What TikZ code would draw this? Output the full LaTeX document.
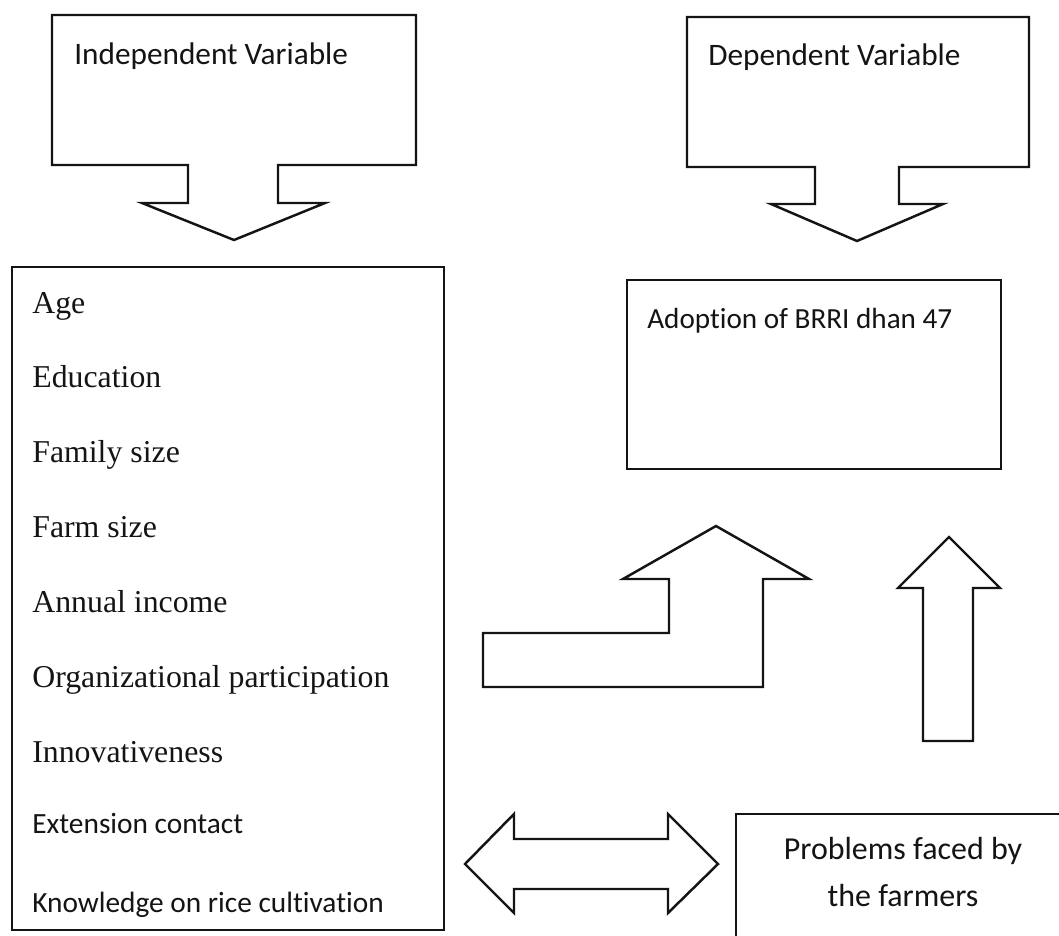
\documentclass[tikz,border=0pt]{standalone}
\usepackage{fontspec}
\setmainfont{Liberation Serif}
\newfontfamily\vfsans[Ligatures=NoCommon]{Carlito}
\definecolor{vfInk}{HTML}{141414}
\tikzset{
  vf outline/.style={draw=vfInk, fill=white, line width=1.4pt, line join=miter},
  vf title/.style={font=\vfsans\fontsize{17.8}{21}\selectfont, text=vfInk, anchor=base west, inner sep=0pt},
  vf item/.style={font=\fontsize{18.1}{22}\selectfont, text=vfInk, anchor=base west, inner sep=0pt},
  vf sans item/.style={vf item, font=\vfsans\fontsize{16.7}{20}\selectfont},
  vf problem/.style={font=\vfsans\fontsize{18.2}{22}\selectfont, text=vfInk, anchor=base, inner sep=0pt}
}

\begin{document}
\begin{tikzpicture}[x=0.02cm,y=-0.02cm]
  \clip (0,0) rectangle (1059,936);
  \fill[white] (0,0) rectangle (1059,936);

  % callouts on top
  \draw[vf outline] (52,15) -- (416,15) -- (416,165) -- (278,165) -- (278,203) -- (325,203)
    -- (234,240) -- (142,203) -- (188,203) -- (188,165) -- (52,165) -- cycle;
  \node[vf title] (indep) at (74,65) {Independent Variable};
  \draw[vf outline] (687,17) -- (1029,17) -- (1029,167) -- (899,167) -- (899,204) -- (943,204)
    -- (857,241) -- (771,204) -- (815,204) -- (815,167) -- (687,167) -- cycle;
  \node[vf title] (dep) at (708,66) {Dependent Variable};

  % list of independent variables
  \draw[vf outline] (12,267) rectangle (444,930);
  \foreach \factor [count=\i from 0] in {Age,Education,Family size,Farm size,Annual income,
      Organizational participation,Innovativeness}
    \node[vf item] (factor\i) at (32,{313+74.9*\i}) {\factor};
  \node[vf sans item] (extension) at (32,833) {Extension contact};
  \node[vf sans item] (knowledge) at (32,912) {Knowledge on rice cultivation};

  % dependent variable
  \draw[vf outline] (627,280) rectangle (1001,469);
  \node[vf title, font=\vfsans\fontsize{16.6}{20}\selectfont] (adoption) at (647,328) {Adoption of BRRI dhan 47};

  % block arrows
  \draw[vf outline] (483,633) -- (669,633) -- (669,579) -- (623,579) -- (716,526) -- (809,579)
    -- (763,579) -- (763,687) -- (483,687) -- cycle;
  \draw[vf outline] (923,741) -- (923,588) -- (898,588) -- (949,537) -- (1000,588) -- (973,588)
    -- (973,741) -- cycle;
  \draw[vf outline] (465,864) -- (514,814) -- (514,839) -- (668,839) -- (668,814) -- (718,864)
    -- (668,913) -- (668,889) -- (514,889) -- (514,913) -- cycle;

  % problems
  \draw[vf outline] (736,814) rectangle (1080,960);
  \node[vf problem] (problems) at (903,859) {Problems faced by};
  \node[vf problem] (farmers) at (903,906) {the farmers};
\end{tikzpicture}
\end{document}
